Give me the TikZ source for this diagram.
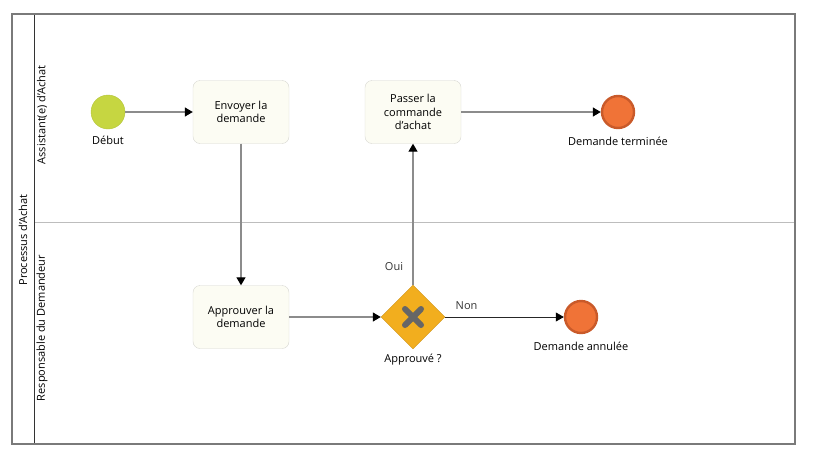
\documentclass[tikz,border=0pt]{standalone}
\usepackage{fontspec}
\setmainfont{Open Sans}
\usetikzlibrary{arrows.meta,shapes.geometric}
\definecolor{laneline}{HTML}{BDBDBD}
\definecolor{poolline}{HTML}{7A7A7A}
\definecolor{flowline}{HTML}{8C8C8C}
\definecolor{taskfill}{HTML}{FCFCF3}
\definecolor{taskline}{HTML}{D6D6D0}
\definecolor{startfill}{HTML}{C6D641}
\definecolor{startline}{HTML}{B4C43C}
\definecolor{endfill}{HTML}{F07337}
\definecolor{endline}{HTML}{C95A2A}
\definecolor{gatefill}{HTML}{F2AE1E}
\definecolor{gatecross}{HTML}{666666}

\begin{document}
\begin{tikzpicture}[x=1pt,y=-1pt,font=\fontsize{11}{13.5}\selectfont]
\useasboundingbox (0,0) rectangle (813,458);
%%%%%%%%%%%%%%%%%%%%%%%%%%%%%%%%%%%%%%%%%%%%%%%%%%%%%%%%%%%%%%
%POOL/LANES
\coordinate (poolTL) at (12,14);
\coordinate (poolBR) at (795,444);
\coordinate (laneTop) at (34,14);
\coordinate (laneBot) at (34,444);
\coordinate (laneMidL) at (34,222);
\coordinate (laneMidR) at (795,222);
\draw[laneline,thick] (laneMidL) -- (laneMidR);
\draw[black!80] (laneTop) -- (laneBot);
\draw[poolline,line width=1.3pt] (poolTL) rectangle (poolBR);
\node[rotate=90] (pool) at (23,240) {Processus d'Achat};
\node[rotate=90] (lane1) at (42,115) {Assistant(e) d'Achat};
\node[rotate=90] (lane2) at (42,328) {Responsable du Demandeur};

%%%%%%%%%%%%%%%%%%%%%%%%%%%%%%%%%%%%%%%%%%%%%%%%%%%%%%%%%%%%%%
%vertex
%vars
\tikzstyle{task}=[draw=taskline,fill=taskfill,rounded corners=7pt,minimum width=96pt,minimum height=63pt,align=center,inner sep=2pt]
\tikzstyle{startev}=[circle,draw=startline,fill=startfill,minimum size=34pt,inner sep=0pt]
\tikzstyle{endev}=[circle,draw=endline,line width=2.4pt,fill=endfill,minimum size=32pt,inner sep=0pt]
\tikzstyle{gateway}=[diamond,draw=gatefill!85!black,fill=gatefill,minimum size=64pt,inner sep=0pt]
\tikzstyle{flow}=[flowline,line width=1.2pt,-{Triangle[length=8pt,width=9pt,color=black]}]

%events
\node[startev] (debut) at (108,112) {};
\node (debutlbl) at (108,140) {Début};
\node[endev] (fin) at (618,112) {};
\node (finlbl) at (618,141) {Demande terminée};
\node[endev] (annule) at (581,317) {};
\node (annulelbl) at (581,346) {Demande annulée};

%tasks
\node[task] (envoyer) at (241,112) {Envoyer la\\demande};
\node[task] (passer) at (413,112) {Passer la\\commande\\d'achat};
\node[task] (approuver) at (241,317) {Approuver la\\demande};

%gateway
\node[gateway] (gate) at (413,317) {};
\draw[gatecross,line width=6pt,line cap=round] ([shift={(-8,-8)}]gate.center) -- ([shift={(8,8)}]gate.center);
\draw[gatecross,line width=6pt,line cap=round] ([shift={(-8,8)}]gate.center) -- ([shift={(8,-8)}]gate.center);
\node (gatelbl) at (413,360) {Approuvé ?};

%%%%%%%%%%%%%%%%%%%%%%%%%%%%%%%%%%%%%%%%%%%%%%%%%%%%%%%%%%%%%%
%ARROWS
\draw[flow] (debut) -- (envoyer);
\draw[flow] (envoyer) -- (approuver);
\draw[flow] (approuver) -- (gate);
\draw[flow] (gate) -- node[pos=0.13,left=6pt,black!80] (oui) {Oui} (passer);
\draw[flow,black!85,line width=0.8pt] (gate) -- node[pos=0.18,above=4pt,black!80] (non) {Non} (annule);
\draw[flow] (passer) -- (fin);
\end{tikzpicture}
\end{document}
